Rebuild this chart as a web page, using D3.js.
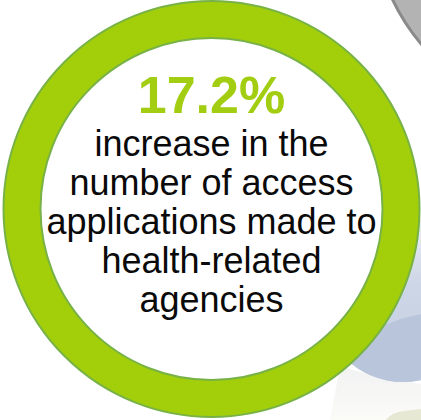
<!DOCTYPE html>
<html>
<head>
<meta charset="utf-8">
<script src="https://cdn.jsdelivr.net/npm/d3@7"></script>
<style>
  html, body { margin: 0; padding: 0; background: #ffffff; }
  svg { display: block; }
</style>
</head>
<body>
<svg id="chart" width="421" height="420"></svg>
<script>
// Headline statistic and its caption
const statValues = [17.2];
const statUnits = ["%"];
const captionLines = [
  "increase in the",
  "number of access",
  "applications made to",
  "health-related",
  "agencies"
];

const width = 421, height = 420;
const svg = d3.select("#chart");

const cx = 211.5, cy = 209;
const outerR = 208, innerR = 171;

// ---- soft background shapes behind the ring ----
const bg = svg.append("g");

const defs = svg.append("defs");
const blueGrad = defs.append("linearGradient")
  .attr("id", "blueFade").attr("x1", 0).attr("y1", 0).attr("x2", 0).attr("y2", 1);
blueGrad.append("stop").attr("offset", "0%").attr("stop-color", "#eef1f6");
blueGrad.append("stop").attr("offset", "40%").attr("stop-color", "#cdd6e6");
blueGrad.append("stop").attr("offset", "100%").attr("stop-color", "#c6d0e2");

const lowGrad = defs.append("linearGradient")
  .attr("id", "lowFade").attr("x1", 0).attr("y1", 0).attr("x2", 0).attr("y2", 1);
lowGrad.append("stop").attr("offset", "0%").attr("stop-color", "#f1f2f2");
lowGrad.append("stop").attr("offset", "100%").attr("stop-color", "#fbfbf8");

// pale band below the blue shape
bg.append("path")
  .attr("d", "M340,366 Q385,380 421,384 L421,420 L330,420 Z")
  .attr("fill", "url(#lowFade)");

// olive strip in the lower corner
bg.append("path")
  .attr("d", "M386,420 Q392,412 404,411 L421,409 L421,420 Z")
  .attr("fill", "#e6e8d3");

// blue disc peeking out on the right
defs.append("clipPath").attr("id", "blueClip")
  .append("circle").attr("cx", 403).attr("cy", 300).attr("r", 82);
bg.append("circle")
  .attr("cx", 403).attr("cy", 300).attr("r", 82)
  .attr("fill", "url(#blueFade)");
bg.append("circle")
  .attr("clip-path", "url(#blueClip)")
  .attr("cx", 446).attr("cy", 462).attr("r", 150)
  .attr("fill", "#b9c5da");

// grey disc in the upper corner
bg.append("circle")
  .attr("cx", 582).attr("cy", -91).attr("r", 210)
  .attr("fill", "#b3b3b3")
  .attr("stroke", "#8a8a8a")
  .attr("stroke-width", 3);

// ---- ring ----
const ring = svg.append("g").attr("transform", `translate(${cx},${cy})`);

ring.append("circle")
  .attr("r", innerR)
  .attr("fill", "#ffffff");

const arc = d3.arc().innerRadius(innerR).outerRadius(outerR);
ring.append("path")
  .attr("d", arc({ startAngle: 0, endAngle: 2 * Math.PI }))
  .attr("fill", "#a3cf0a");

[outerR, innerR].forEach(r => {
  ring.append("circle")
    .attr("r", r)
    .attr("fill", "none")
    .attr("stroke", "#78b247")
    .attr("stroke-width", 2);
});

// ---- text ----
const fmt = d3.format(".1f");
svg.append("text")
  .attr("x", cx)
  .attr("y", 113)
  .attr("text-anchor", "middle")
  .attr("font-family", "'Liberation Sans', Arial, sans-serif")
  .attr("font-weight", "bold")
  .attr("font-size", 52)
  .attr("fill", "#a2cd10")
  .text(fmt(statValues[0]) + statUnits[0]);

const lineY = d3.scalePoint()
  .domain(d3.range(captionLines.length))
  .range([156, 312]);

svg.append("g")
  .selectAll("text")
  .data(captionLines)
  .join("text")
  .attr("x", cx)
  .attr("y", (d, i) => lineY(i))
  .attr("text-anchor", "middle")
  .attr("font-family", "'Liberation Sans', Arial, sans-serif")
  .attr("font-size", 36)
  .attr("fill", "#0a0a0a")
  .text(d => d);
</script>
</body>
</html>
